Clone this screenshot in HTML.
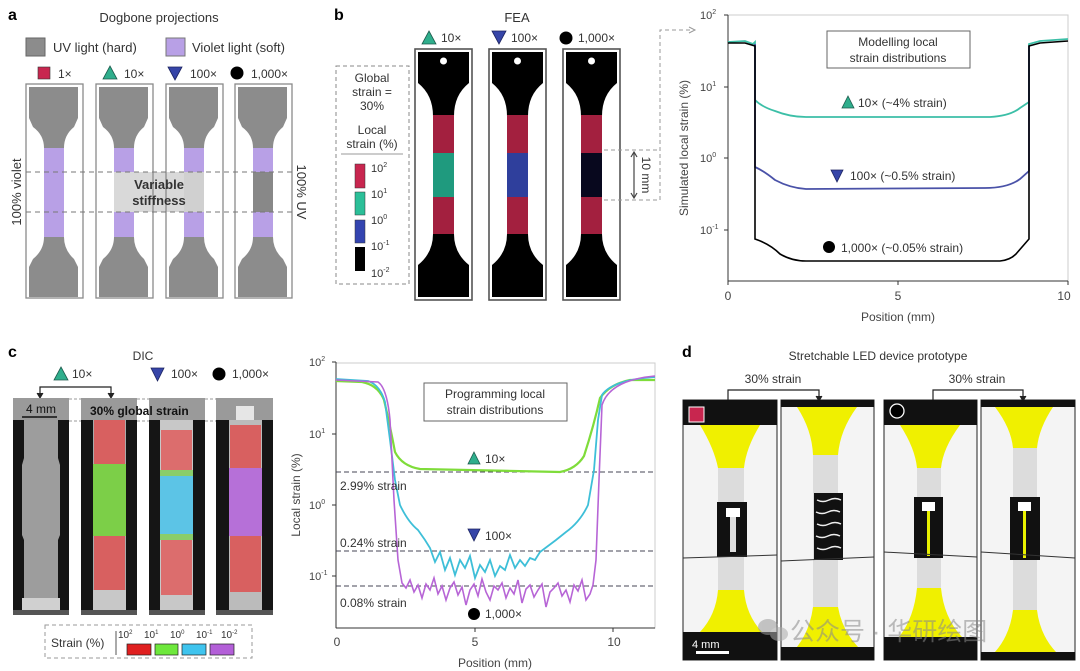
<!DOCTYPE html>
<html><head><meta charset="utf-8"><style>
html,body{margin:0;padding:0;background:#fff;}
svg{display:block;font-family:"Liberation Sans","Noto Sans CJK SC",sans-serif;}
</style></head><body>
<svg width="1080" height="671" viewBox="0 0 1080 671" xmlns="http://www.w3.org/2000/svg">
<defs>
<path id="dbA" d="M3,87 H52 V118 L48,127 Q38,135 38,148 V237 Q38,250 48,259 L52,267 V297 H3 V267 L7,259 Q18,250 18,237 V148 Q18,135 7,127 L3,118 Z"/>
<path id="dbB" d="M3,52 H54 V83 Q39,95 39,116 V234 Q39,253 54,265 V297 H3 V265 Q18,253 18,234 V116 Q18,95 3,83 Z"/>
<marker id="ah" markerWidth="8" markerHeight="8" refX="6" refY="4" orient="auto"><path d="M0,1 L6,4 L0,7" fill="none" stroke="#444" stroke-width="1"/></marker>
<marker id="ahf" markerWidth="8" markerHeight="8" refX="6" refY="4" orient="auto"><path d="M0,1 L6,4 L0,7 Z" fill="#333"/></marker>
</defs>

<!-- ============ PANEL A ============ -->
<text x="8" y="20" font-size="16" font-weight="bold">a</text>
<text x="159" y="22" font-size="13" text-anchor="middle" fill="#333">Dogbone projections</text>
<rect x="26" y="38" width="19" height="18" fill="#8c8c8c" stroke="#666"/>
<text x="53" y="52" font-size="13" fill="#333">UV light (hard)</text>
<rect x="166" y="38" width="19" height="18" fill="#b8a0e6" stroke="#777"/>
<text x="192" y="52" font-size="13" fill="#333">Violet light (soft)</text>
<rect x="38" y="67" width="12" height="12" fill="#c8264f" stroke="#333" stroke-width=".6"/>
<text x="58" y="78" font-size="12" fill="#333">1×</text>
<polygon points="110,66 117,79 103,79" fill="#2fae8c" stroke="#1d5b4d" stroke-width=".8"/>
<text x="124" y="78" font-size="12" fill="#333">10×</text>
<polygon points="168,67 182,67 175,80" fill="#3645a8" stroke="#1c2460" stroke-width=".8"/>
<text x="190" y="78" font-size="12" fill="#333">100×</text>
<circle cx="237" cy="73" r="6.5" fill="#000"/>
<text x="251" y="78" font-size="12" fill="#333">1,000×</text>

<rect x="114" y="172" width="89" height="40" fill="#d9d9d9"/>
<g transform="translate(26,0)">
 <rect x="0" y="84" width="57" height="214" fill="none" stroke="#8a8a8a" stroke-width="1.3"/>
 <use href="#dbA" fill="#8c8c8c"/>
 <rect x="18" y="148" width="20" height="89" fill="#b8a0e6"/>
</g>
<g transform="translate(96,0)">
 <rect x="0" y="84" width="57" height="214" fill="none" stroke="#8a8a8a" stroke-width="1.3"/>
 <use href="#dbA" fill="#8c8c8c"/>
 <rect x="18" y="148" width="20" height="24" fill="#b8a0e6"/>
 <rect x="18" y="172" width="20" height="40" fill="#d9d9d9"/>
 <rect x="18" y="212" width="20" height="25" fill="#b8a0e6"/>
</g>
<g transform="translate(166,0)">
 <rect x="0" y="84" width="57" height="214" fill="none" stroke="#8a8a8a" stroke-width="1.3"/>
 <use href="#dbA" fill="#8c8c8c"/>
 <rect x="18" y="148" width="20" height="24" fill="#b8a0e6"/>
 <rect x="18" y="172" width="20" height="40" fill="#d0d0d0"/>
 <rect x="18" y="212" width="20" height="25" fill="#b8a0e6"/>
</g>
<g transform="translate(235,0)">
 <rect x="0" y="84" width="57" height="214" fill="none" stroke="#8a8a8a" stroke-width="1.3"/>
 <use href="#dbA" fill="#8c8c8c"/>
 <rect x="18" y="148" width="20" height="24" fill="#b8a0e6"/>
 <rect x="18" y="172" width="20" height="40" fill="#888"/>
 <rect x="18" y="212" width="20" height="25" fill="#b8a0e6"/>
</g>
<line x1="26" y1="172" x2="292" y2="172" stroke="#777" stroke-dasharray="5,4"/>
<line x1="26" y1="212" x2="292" y2="212" stroke="#777" stroke-dasharray="5,4"/>
<text x="159" y="189" font-size="13" font-weight="bold" text-anchor="middle" fill="#333">Variable</text>
<text x="159" y="205" font-size="13" font-weight="bold" text-anchor="middle" fill="#333">stiffness</text>
<text transform="translate(21,192) rotate(-90)" font-size="13" text-anchor="middle" fill="#333">100% violet</text>
<text transform="translate(297,192) rotate(90)" font-size="13" text-anchor="middle" fill="#333">100% UV</text>

<!-- ============ PANEL B ============ -->
<text x="334" y="20" font-size="16" font-weight="bold">b</text>
<text x="517" y="22" font-size="13" text-anchor="middle" fill="#333">FEA</text>
<polygon points="429,31 436,44 422,44" fill="#2fae8c" stroke="#1d5b4d" stroke-width=".8"/>
<text x="441" y="42" font-size="12" fill="#333">10×</text>
<polygon points="492,31 506,31 499,44" fill="#3645a8" stroke="#1c2460" stroke-width=".8"/>
<text x="511" y="42" font-size="12" fill="#333">100×</text>
<circle cx="566" cy="38" r="6.5" fill="#000"/>
<text x="578" y="42" font-size="12" fill="#333">1,000×</text>

<rect x="336" y="66" width="73" height="218" fill="none" stroke="#888" stroke-dasharray="4,3"/>
<g font-size="12" fill="#333" text-anchor="middle">
<text x="372" y="82">Global</text><text x="372" y="96">strain =</text><text x="372" y="110">30%</text>
<text x="372" y="134">Local</text><text x="372" y="148">strain (%)</text>
</g>
<line x1="341" y1="154" x2="403" y2="154" stroke="#999"/>
<rect x="355" y="164" width="10" height="24" fill="#c8264f" stroke="#333" stroke-width=".5"/>
<rect x="355" y="192" width="10" height="23" fill="#2bbf98" stroke="#333" stroke-width=".5"/>
<rect x="355" y="220" width="10" height="23" fill="#3344b0" stroke="#333" stroke-width=".5"/>
<rect x="355" y="247" width="10" height="24" fill="#000"/>
<g font-size="11" fill="#333">
<text x="371" y="172">10<tspan font-size="7" dy="-5">2</tspan></text>
<text x="371" y="198">10<tspan font-size="7" dy="-5">1</tspan></text>
<text x="371" y="224">10<tspan font-size="7" dy="-5">0</tspan></text>
<text x="371" y="250">10<tspan font-size="7" dy="-5">-1</tspan></text>
<text x="371" y="277">10<tspan font-size="7" dy="-5">-2</tspan></text>
</g>

<g transform="translate(415,0)">
 <rect x="0" y="49" width="57" height="251" fill="#fff" stroke="#555" stroke-width="1.6"/>
 <use href="#dbB" fill="#000"/>
 <rect x="18" y="115" width="21" height="38" fill="#a3203f"/>
 <rect x="18" y="153" width="21" height="44" fill="#1f9a7e"/>
 <rect x="18" y="197" width="21" height="37" fill="#a3203f"/>
 <circle cx="28.5" cy="61" r="3.5" fill="#fff"/>
</g>
<g transform="translate(489,0)">
 <rect x="0" y="49" width="57" height="251" fill="#fff" stroke="#555" stroke-width="1.6"/>
 <use href="#dbB" fill="#000"/>
 <rect x="18" y="115" width="21" height="38" fill="#a3203f"/>
 <rect x="18" y="153" width="21" height="44" fill="#2f3f9c"/>
 <rect x="18" y="197" width="21" height="37" fill="#a3203f"/>
 <circle cx="28.5" cy="61" r="3.5" fill="#fff"/>
</g>
<g transform="translate(563,0)">
 <rect x="0" y="49" width="57" height="251" fill="#fff" stroke="#555" stroke-width="1.6"/>
 <use href="#dbB" fill="#000"/>
 <rect x="18" y="115" width="21" height="38" fill="#a3203f"/>
 <rect x="18" y="153" width="21" height="44" fill="#08081e"/>
 <rect x="18" y="197" width="21" height="37" fill="#a3203f"/>
 <circle cx="28.5" cy="61" r="3.5" fill="#fff"/>
</g>
<!-- 10 mm marker -->
<path d="M604,150 H660 M604,200 H660 M660,200 V30 H693" fill="none" stroke="#999" stroke-dasharray="4,3"/>
<path d="M689,27 L695,30 L689,33" fill="none" stroke="#999"/>
<line x1="634" y1="153" x2="634" y2="197" stroke="#444" stroke-width="1.2"/>
<path d="M631,157 L634,152 L637,157 M631,193 L634,198 L637,193" fill="none" stroke="#444" stroke-width="1.2"/>
<text transform="translate(642,175) rotate(90)" font-size="12" text-anchor="middle" fill="#333">10 mm</text>

<!-- chart b -->
<rect x="728" y="15" width="340" height="266" fill="none" stroke="#ccc" stroke-width="1"/>
<line x1="728" y1="15" x2="728" y2="281" stroke="#333"/>
<line x1="728" y1="281" x2="1068" y2="281" stroke="#333"/>
<g stroke="#333">
<line x1="724" y1="15" x2="728" y2="15"/><line x1="724" y1="87" x2="728" y2="87"/><line x1="724" y1="158" x2="728" y2="158"/><line x1="724" y1="230" x2="728" y2="230"/>
<line x1="728" y1="281" x2="728" y2="285"/><line x1="898" y1="281" x2="898" y2="285"/><line x1="1068" y1="281" x2="1068" y2="285"/>
</g>
<g font-size="11" fill="#444">
<text x="700" y="19">10<tspan font-size="7" dy="-5">2</tspan></text>
<text x="700" y="91">10<tspan font-size="7" dy="-5">1</tspan></text>
<text x="700" y="162">10<tspan font-size="7" dy="-5">0</tspan></text>
<text x="700" y="234">10<tspan font-size="7" dy="-5">-1</tspan></text>
</g>
<g font-size="12" fill="#444" text-anchor="middle">
<text x="728" y="300">0</text><text x="898" y="300">5</text><text x="1064" y="300">10</text>
<text x="898" y="321">Position (mm)</text>
</g>
<text transform="translate(688,148) rotate(-90)" font-size="12" text-anchor="middle" fill="#444">Simulated local strain (%)</text>
<path d="M728,42 L745,41 L753,44 L755,42 V100 Q762,107 775,111 Q790,117 806,117 L990,117 Q1010,116 1020,108 L1029,102 V44 L1040,41 L1068,39" fill="none" stroke="#3cbfa7" stroke-width="1.8"/>
<path d="M755,44 V167 Q764,171 775,180 Q790,188 806,189 L985,188 Q1008,188 1020,179 L1029,171 V46" fill="none" stroke="#4a52a8" stroke-width="1.8"/>
<path d="M728,43 L745,43 L755,46 V239 Q770,244 780,254 Q792,261 806,261 L1000,261 Q1010,260 1016,254 L1029,239 V46 L1040,43 L1068,41" fill="none" stroke="#000" stroke-width="1.6"/>
<rect x="827" y="31" width="143" height="37" fill="#fff" stroke="#666"/>
<text x="898" y="46" font-size="12" text-anchor="middle" fill="#333">Modelling local</text>
<text x="898" y="62" font-size="12" text-anchor="middle" fill="#333">strain distributions</text>
<polygon points="848,96 854,108 842,108" fill="#2fae8c" stroke="#1d5b4d" stroke-width=".8"/>
<text x="858" y="107" font-size="12" fill="#333">10× (~4% strain)</text>
<polygon points="831,170 843,170 837,182" fill="#3645a8" stroke="#1c2460" stroke-width=".8"/>
<text x="850" y="180" font-size="12" fill="#333">100× (~0.5% strain)</text>
<circle cx="829" cy="247" r="6" fill="#000"/>
<text x="841" y="252" font-size="12" fill="#333">1,000× (~0.05% strain)</text>

<!-- ============ PANEL C ============ -->
<text x="8" y="357" font-size="16" font-weight="bold">c</text>
<text x="143" y="360" font-size="12" text-anchor="middle" fill="#333">DIC</text>
<polygon points="61,367 68,380 54,380" fill="#2fae8c" stroke="#1d5b4d" stroke-width=".8"/>
<text x="72" y="378" font-size="12" fill="#333">10×</text>
<polygon points="151,368 164,368 157.5,381" fill="#3645a8" stroke="#1c2460" stroke-width=".8"/>
<text x="171" y="378" font-size="12" fill="#333">100×</text>
<circle cx="219" cy="374" r="6.5" fill="#000"/>
<text x="232" y="378" font-size="12" fill="#333">1,000×</text>
<path d="M40,397 V387 H111 V397" fill="none" stroke="#222" stroke-width="1.2"/>
<path d="M37,393 L40,398 L43,393 M108,393 L111,398 L114,393" fill="#222" stroke="#222"/>

<!-- photos -->
<g>
 <rect x="13" y="398" width="56" height="217" fill="#151515"/>
 <rect x="13" y="398" width="56" height="22" fill="#9a9a9a"/>
 <path d="M24,420 H58 V458 L60,465 V535 L58,540 V612 H24 V540 L22,535 V465 L24,458 Z" fill="#9d9d9d"/>
 <rect x="22" y="598" width="38" height="14" fill="#d0d0d0"/>
 <rect x="13" y="610" width="56" height="5" fill="#555"/>
</g>
<g>
 <rect x="81" y="398" width="56" height="217" fill="#151515"/>
 <rect x="81" y="398" width="56" height="22" fill="#9a9a9a"/>
 <rect x="93" y="420" width="33" height="192" fill="#aaa"/>
 <rect x="94" y="420" width="31" height="44" fill="#d86060"/>
 <rect x="93" y="464" width="33" height="72" fill="#7ccf48"/>
 <rect x="94" y="536" width="31" height="54" fill="#d86060"/>
 <rect x="93" y="590" width="33" height="22" fill="#c8c8c8"/>
 <rect x="81" y="610" width="56" height="5" fill="#555"/>
</g>
<g>
 <rect x="149" y="398" width="56" height="217" fill="#151515"/>
 <rect x="149" y="398" width="56" height="22" fill="#9a9a9a"/>
 <rect x="160" y="420" width="33" height="192" fill="#c8c8c8"/>
 <rect x="161" y="430" width="31" height="40" fill="#dc6d6d"/>
 <rect x="160" y="470" width="33" height="6" fill="#8acd6a"/>
 <rect x="160" y="476" width="33" height="58" fill="#5cc4e6"/>
 <rect x="160" y="534" width="33" height="6" fill="#8acd6a"/>
 <rect x="161" y="540" width="31" height="55" fill="#dc6d6d"/>
 <rect x="149" y="610" width="56" height="5" fill="#555"/>
</g>
<g>
 <rect x="216" y="398" width="57" height="217" fill="#151515"/>
 <rect x="216" y="398" width="57" height="22" fill="#9a9a9a"/>
 <rect x="236" y="406" width="18" height="14" fill="#e6e6e6"/>
 <rect x="229" y="420" width="33" height="192" fill="#bbb"/>
 <rect x="230" y="425" width="31" height="43" fill="#d86060"/>
 <rect x="229" y="468" width="33" height="68" fill="#b670d8"/>
 <rect x="230" y="536" width="31" height="56" fill="#d86060"/>
 <rect x="216" y="610" width="57" height="5" fill="#555"/>
</g>
<path d="M69,399 H81 M137,399 H149 M205,399 H216 M69,421 H81 M137,421 H149 M205,421 H216" stroke="#999" stroke-dasharray="3,2"/>
<text x="26" y="413" font-size="12" fill="#111">4 mm</text>
<line x1="22" y1="417" x2="57" y2="417" stroke="#111" stroke-width="1.5"/>
<text x="90" y="415" font-size="12" font-weight="bold" fill="#111">30% global strain</text>

<rect x="45" y="625" width="207" height="33" fill="none" stroke="#999" stroke-dasharray="4,3"/>
<text x="51" y="647" font-size="12" fill="#333">Strain (%)</text>
<line x1="116" y1="631" x2="116" y2="655" stroke="#555"/>
<g font-size="10" fill="#333">
<text x="118" y="638">10<tspan font-size="6" dy="-4">2</tspan></text>
<text x="144" y="638">10<tspan font-size="6" dy="-4">1</tspan></text>
<text x="170" y="638">10<tspan font-size="6" dy="-4">0</tspan></text>
<text x="196" y="638">10<tspan font-size="6" dy="-4">-1</tspan></text>
<text x="221" y="638">10<tspan font-size="6" dy="-4">-2</tspan></text>
</g>
<rect x="127" y="644" width="24" height="11" fill="#e02020" stroke="#222" stroke-width=".7"/>
<rect x="155" y="644" width="23" height="11" fill="#6ee83c" stroke="#222" stroke-width=".7"/>
<rect x="182" y="644" width="24" height="11" fill="#3fc4ee" stroke="#222" stroke-width=".7"/>
<rect x="210" y="644" width="24" height="11" fill="#b35fd8" stroke="#222" stroke-width=".7"/>

<!-- chart c -->
<rect x="336" y="363" width="319" height="265" fill="none" stroke="#ccc"/>
<line x1="336" y1="362" x2="336" y2="628" stroke="#333"/>
<line x1="336" y1="628" x2="655" y2="628" stroke="#333"/>
<g stroke="#333">
<line x1="332" y1="362" x2="336" y2="362"/><line x1="332" y1="434" x2="336" y2="434"/><line x1="332" y1="505" x2="336" y2="505"/><line x1="332" y1="576" x2="336" y2="576"/>
<line x1="475" y1="628" x2="475" y2="632"/><line x1="613" y1="628" x2="613" y2="632"/>
</g>
<g font-size="11" fill="#444">
<text x="309" y="366">10<tspan font-size="7" dy="-5">2</tspan></text>
<text x="309" y="438">10<tspan font-size="7" dy="-5">1</tspan></text>
<text x="309" y="509">10<tspan font-size="7" dy="-5">0</tspan></text>
<text x="309" y="580">10<tspan font-size="7" dy="-5">-1</tspan></text>
</g>
<g font-size="12" fill="#444" text-anchor="middle">
<text x="337" y="646">0</text><text x="475" y="646">5</text><text x="614" y="646">10</text>
<text x="495" y="667">Position (mm)</text>
</g>
<text transform="translate(300,495) rotate(-90)" font-size="12" text-anchor="middle" fill="#444">Local strain (%)</text>
<g stroke="#445" stroke-dasharray="5,3" stroke-width="1">
<line x1="336" y1="472" x2="655" y2="472"/><line x1="336" y1="551" x2="655" y2="551"/><line x1="336" y1="586" x2="655" y2="586"/>
</g>
<path d="M336,381 L362,382 Q378,385 384,400 Q390,425 395,452 Q402,466 420,469 L560,472 Q576,469 584,456 Q594,425 600,398 Q610,384 630,380 L655,380" fill="none" stroke="#7fdc3a" stroke-width="2.2"/>
<path d="M336,379 L368,381 Q380,385 385,402 L390,440 L395,480 L400,505 Q408,522 418,530 L425,540 L430,548 L435,562 L440,552 L445,570 L450,558 L455,575 L460,560 L465,568 L470,556 L475,578 L480,565 L485,572 L490,560 L495,576 L500,566 L505,570 L510,555 L515,568 L520,560 L525,566 L530,558 L535,560 L540,552 L548,546 L556,540 L566,532 Q580,522 588,505 L594,470 L598,420 L602,395 Q612,380 655,377" fill="none" stroke="#3ebfd8" stroke-width="1.8"/>
<path d="M336,380 L378,382 Q387,388 390,420 L394,500 L398,560 L402,583 L406,588 L410,580 L414,592 L418,585 L422,598 L426,584 L430,590 L434,578 L438,594 L442,586 L446,600 L450,588 L454,582 L458,595 L462,587 L466,605 L470,590 L474,584 L478,596 L482,579 L486,592 L490,600 L494,586 L498,590 L502,583 L506,598 L510,588 L514,594 L518,580 L522,603 L526,589 L530,585 L534,597 L538,590 L542,584 L546,607 L550,592 L554,588 L558,583 L562,596 L566,590 L570,602 L574,585 L578,591 L582,580 L586,600 L590,594 L593,585 L596,560 L599,480 L602,405 Q610,380 655,376" fill="none" stroke="#b765d6" stroke-width="1.6"/>
<rect x="424" y="383" width="143" height="38" fill="#fff" stroke="#666"/>
<text x="495" y="398" font-size="12" text-anchor="middle" fill="#333">Programming local</text>
<text x="495" y="414" font-size="12" text-anchor="middle" fill="#333">strain distributions</text>
<text x="340" y="490" font-size="12" fill="#333">2.99% strain</text>
<text x="340" y="547" font-size="12" fill="#333">0.24% strain</text>
<text x="340" y="607" font-size="12" fill="#333">0.08% strain</text>
<polygon points="474,452 480,464 468,464" fill="#2fae8c" stroke="#1d5b4d" stroke-width=".8"/>
<text x="485" y="463" font-size="12" fill="#333">10×</text>
<polygon points="468,529 480,529 474,541" fill="#3645a8" stroke="#1c2460" stroke-width=".8"/>
<text x="485" y="540" font-size="12" fill="#333">100×</text>
<circle cx="474" cy="614" r="6" fill="#000"/>
<text x="485" y="618" font-size="12" fill="#333">1,000×</text>

<!-- ============ PANEL D ============ -->
<text x="682" y="357" font-size="16" font-weight="bold">d</text>
<text x="878" y="360" font-size="12" text-anchor="middle" fill="#333">Stretchable LED device prototype</text>
<text x="773" y="383" font-size="12" text-anchor="middle" fill="#333">30% strain</text>
<text x="977" y="383" font-size="12" text-anchor="middle" fill="#333">30% strain</text>
<path d="M728,400 V390 H819 V400" fill="none" stroke="#222" stroke-width="1.2"/>
<path d="M816,396 L819,401 L822,396" fill="#222" stroke="#222"/>
<path d="M933,400 V390 H1023 V400" fill="none" stroke="#222" stroke-width="1.2"/>
<path d="M1020,396 L1023,401 L1026,396" fill="#222" stroke="#222"/>

<!-- photo 1 -->
<g>
 <rect x="683" y="400" width="94" height="260" fill="#f4f4f4" stroke="#222"/>
 <rect x="683" y="400" width="94" height="25" fill="#111"/>
 <rect x="689" y="407" width="15" height="15" fill="#c8264f" stroke="#fff" stroke-width="1"/>
 <path d="M700,425 H760 Q746,448 744,468 H718 Q714,448 700,425 Z" fill="#f0f000"/>
 <rect x="718" y="468" width="26" height="122" fill="#dcdcdc"/>
 <rect x="717" y="502" width="30" height="55" fill="#111"/>
 <rect x="726" y="508" width="14" height="9" fill="#fff"/>
 <rect x="730" y="517" width="6" height="35" fill="#ddd"/>
 <line x1="683" y1="558" x2="777" y2="555" stroke="#333" stroke-width="1"/>
 <path d="M718,590 H744 Q746,615 762,632 H700 Q716,615 718,590 Z" fill="#f0f000"/>
 <rect x="683" y="632" width="94" height="28" fill="#111"/>
 <text x="692" y="648" font-size="11" fill="#fff">4 mm</text>
 <rect x="696" y="651" width="33" height="3" fill="#fff"/>
</g>
<!-- photo 2 -->
<g>
 <rect x="781" y="400" width="93" height="260" fill="#f4f4f4" stroke="#222"/>
 <rect x="781" y="400" width="93" height="7" fill="#111"/>
 <path d="M797,407 H857 Q840,430 838,455 H813 Q812,430 797,407 Z" fill="#f0f000"/>
 <rect x="813" y="455" width="25" height="152" fill="#dcdcdc"/>
 <rect x="814" y="493" width="29" height="67" fill="#111"/>
 <path d="M817,500 q6,3 12,0 t12,0 M816,512 q6,3 12,0 t12,0 M817,524 q6,3 12,0 t12,0 M816,536 q6,3 12,0 t12,0 M817,548 q6,3 12,0 t12,0" fill="none" stroke="#eee" stroke-width="1.4"/>
 <line x1="781" y1="561" x2="874" y2="557" stroke="#333"/>
 <path d="M813,607 H838 Q842,630 858,647 H797 Q810,630 813,607 Z" fill="#f0f000"/>
 <rect x="781" y="647" width="93" height="13" fill="#111"/>
</g>
<!-- photo 3 -->
<g>
 <rect x="884" y="400" width="93" height="260" fill="#f4f4f4" stroke="#222"/>
 <rect x="884" y="400" width="93" height="25" fill="#111"/>
 <circle cx="897" cy="411" r="7" fill="#000" stroke="#fff" stroke-width="1.3"/>
 <path d="M900,425 H960 Q943,448 941,468 H917 Q915,448 900,425 Z" fill="#f0f000"/>
 <rect x="917" y="468" width="24" height="120" fill="#dcdcdc"/>
 <rect x="914" y="497" width="29" height="61" fill="#111"/>
 <rect x="922" y="502" width="13" height="9" fill="#fff"/>
 <rect x="927" y="511" width="3" height="45" fill="#e8f000"/>
 <line x1="884" y1="552" x2="977" y2="557" stroke="#333"/>
 <path d="M917,588 H941 Q944,618 962,637 H899 Q914,618 917,588 Z" fill="#f0f000"/>
 <rect x="884" y="637" width="93" height="23" fill="#111"/>
</g>
<!-- photo 4 -->
<g>
 <rect x="981" y="400" width="94" height="260" fill="#f4f4f4" stroke="#222"/>
 <rect x="981" y="400" width="94" height="7" fill="#111"/>
 <path d="M995,407 H1053 Q1039,428 1037,448 H1013 Q1011,428 995,407 Z" fill="#f0f000"/>
 <rect x="1013" y="448" width="24" height="162" fill="#dcdcdc"/>
 <rect x="1010" y="497" width="30" height="63" fill="#111"/>
 <rect x="1018" y="502" width="13" height="9" fill="#fff"/>
 <rect x="1023" y="511" width="3" height="47" fill="#e8f000"/>
 <line x1="981" y1="552" x2="1075" y2="558" stroke="#333"/>
 <path d="M1013,610 H1037 Q1040,635 1056,652 H995 Q1010,635 1013,610 Z" fill="#f0f000"/>
 <rect x="981" y="652" width="94" height="8" fill="#111"/>
</g>

<!-- watermark -->
<g opacity="0.55">
 <ellipse cx="768" cy="627" rx="10" ry="8" fill="#9a9a9a"/>
 <ellipse cx="779" cy="634" rx="9" ry="7" fill="#aaa"/>
 <text x="790" y="640" font-size="25" fill="#8a8a8a">公众号 · 华研绘图</text>
</g>
</svg>
</body></html>
